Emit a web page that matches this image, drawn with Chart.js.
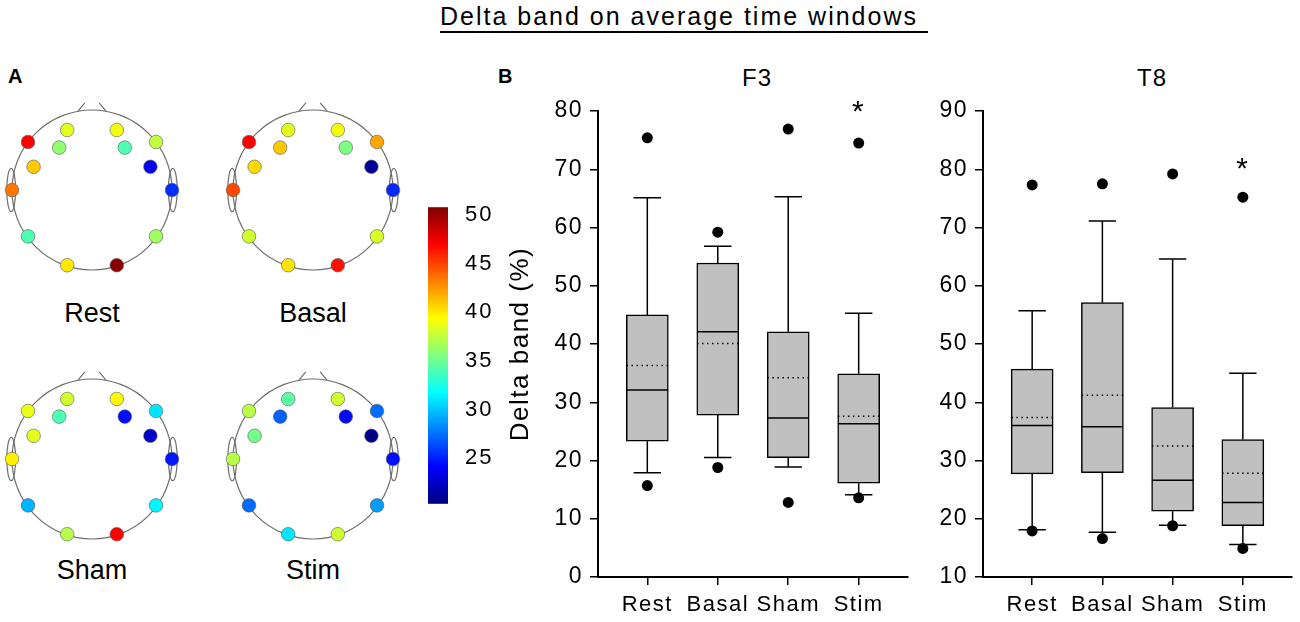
<!DOCTYPE html>
<html>
<head>
<meta charset="utf-8">
<script src="https://cdn.jsdelivr.net/npm/chart.js@4.4.1/dist/chart.umd.min.js"></script>
<style>
body { margin: 0; width: 1300px; height: 622px; position: relative; background: #fff; overflow: hidden;
       font-family: 'Liberation Sans', Arial, sans-serif; color: #000; }
canvas, .txt { position: absolute; }
.txt { line-height: 1; white-space: nowrap; }
.head { width: 184px; text-align: center; font-size: 27px; }
.panel { font-size: 20px; font-weight: bold; }
</style>
</head>
<body>
<div class="txt" style="left:440px;top:4px;width:488px;font-size:25px;letter-spacing:2px;padding-bottom:2px;border-bottom:2px solid #000;">Delta band on average time windows</div>
<div class="txt panel" style="left:8px;top:66px;">A</div>
<div class="txt panel" style="left:498px;top:66px;">B</div>

<canvas id="headRest" width="184" height="180" style="left:0px;top:100px;"></canvas>
<canvas id="headBasal" width="184" height="180" style="left:221px;top:100px;"></canvas>
<canvas id="headSham" width="184" height="180" style="left:0px;top:369px;"></canvas>
<canvas id="headStim" width="184" height="180" style="left:221px;top:369px;"></canvas>
<div class="txt head" style="left:0px;top:300px;">Rest</div>
<div class="txt head" style="left:221px;top:300px;">Basal</div>
<div class="txt head" style="left:0px;top:557px;">Sham</div>
<div class="txt head" style="left:221px;top:557px;">Stim</div>

<canvas id="cbar" width="72" height="341" style="left:428px;top:185px;"></canvas>

<div class="txt" style="left:707px;top:66px;width:100px;text-align:center;font-size:24px;letter-spacing:1px;">F3</div>
<div class="txt" style="left:1102px;top:66px;width:100px;text-align:center;font-size:24px;letter-spacing:1px;">T8</div>
<canvas id="boxF3" width="420" height="567" style="left:495px;top:55px;"></canvas>
<canvas id="boxT8" width="380" height="567" style="left:920px;top:55px;"></canvas>

<script>
// conditions on the x axis
const groups = ['Rest', 'Basal', 'Sham', 'Stim'];

// F3 box plot statistics (%)
const f3Low = [17.9, 20.5, 18.9, 14.1];
const f3Q1 = [23.3, 27.8, 20.5, 16.1];
const f3Median = [32.1, 42.1, 27.3, 26.3];
const f3Mean = [36.3, 40.1, 34.2, 27.6];
const f3Q3 = [45.0, 53.9, 42.1, 34.9];
const f3High = [65.1, 56.8, 65.3, 45.3];
const f3OutHigh = [75.4, 59.2, 76.9, 74.5];
const f3OutLow = [15.7, 18.8, 12.8, 13.6];
const f3Star = [null, null, null, 81.0];
const f3Ticks = [0, 10, 20, 30, 40, 50, 60, 70, 80];

// T8 box plot statistics (%)
const t8Low = [18.1, 17.7, 18.9, 15.6];
const t8Q1 = [27.7, 27.9, 21.3, 18.8];
const t8Median = [36.0, 35.8, 26.6, 22.8];
const t8Mean = [37.4, 41.2, 32.5, 27.8];
const t8Q3 = [45.7, 57.1, 39.1, 33.6];
const t8High = [55.7, 71.1, 64.6, 45.0];
const t8OutHigh = [77.3, 77.5, 79.2, 75.2];
const t8OutLow = [17.9, 16.6, 18.8, 14.9];
const t8Star = [null, null, null, 81.3];
const t8Ticks = [10, 20, 30, 40, 50, 60, 70, 80, 90];

// electrode layout (head radius = 1) and mean delta band per condition
const electrodes = ['AF3', 'F7', 'F3', 'FC5', 'T7', 'P7', 'O1', 'O2', 'P8', 'T8', 'FC6', 'F4', 'F8', 'AF4'];
const elecX = [-0.31, -0.80, -0.41, -0.73, -1.00, -0.80, -0.31, 0.31, 0.80, 1.00, 0.73, 0.41, 0.80, 0.31];
const elecY = [0.75, 0.60, 0.53, 0.29, 0.00, -0.58, -0.94, -0.94, -0.58, 0.00, 0.29, 0.53, 0.60, 0.75];
const restVals = [38.5, 47.0, 36.0, 41.0, 43.5, 34.0, 40.0, 50.5, 36.5, 25.5, 23.5, 34.0, 37.5, 39.0];
const basalVals = [38.5, 47.0, 41.0, 40.5, 44.8, 38.0, 40.2, 46.5, 38.3, 25.3, 21.0, 35.5, 42.0, 39.0];
const shamVals = [38.0, 38.7, 34.0, 38.5, 39.8, 29.5, 37.2, 47.0, 31.5, 24.8, 22.5, 24.5, 31.0, 39.5];
const stimVals = [34.5, 37.3, 27.0, 35.2, 37.2, 27.3, 31.0, 38.0, 28.8, 24.5, 20.5, 24.3, 27.3, 38.0];

// colour scale
const cbarMin = 20.3;
const cbarMax = 50.8;
const cbarTicks = [25, 30, 35, 40, 45, 50];

Chart.defaults.font.family = "'Liberation Sans', Arial, sans-serif";
Chart.defaults.color = '#000';
Chart.defaults.animation = false;

function jet(v) {
    const t = Math.min(1, Math.max(0, (v - cbarMin) / (cbarMax - cbarMin)));
    const c = k => Math.round(255 * Math.min(1, Math.max(0, 1.5 - Math.abs(4 * t - k))));
    return `rgb(${c(3)},${c(2)},${c(1)})`;
}

// wider letter spacing, the original figure's lettering runs wide
const spacing = {
    id: 'spacing',
    beforeLayout(chart, args, opts) { chart.ctx.letterSpacing = (opts.px || 0) + 'px'; },
    beforeDraw(chart, args, opts) { chart.ctx.letterSpacing = (opts.px || 0) + 'px'; }
};

const headOutline = {
    id: 'headOutline',
    beforeDatasetsDraw(chart) {
        const {ctx, scales: {x, y}} = chart;
        const cx = x.getPixelForValue(0), cy = y.getPixelForValue(0);
        const r = x.getPixelForValue(1) - cx;
        ctx.save();
        ctx.strokeStyle = '#6e6e6e';
        ctx.lineWidth = 1.2;
        ctx.beginPath();
        ctx.arc(cx, cy, r, 0, 2 * Math.PI);
        ctx.stroke();
        // nose
        ctx.beginPath();
        ctx.moveTo(x.getPixelForValue(-0.175), y.getPixelForValue(0.985));
        ctx.lineTo(x.getPixelForValue(-0.09), y.getPixelForValue(1.09));
        ctx.moveTo(x.getPixelForValue(0.09), y.getPixelForValue(1.09));
        ctx.lineTo(x.getPixelForValue(0.175), y.getPixelForValue(0.985));
        ctx.stroke();
        // ears
        [-1, 1].forEach(s => {
            ctx.beginPath();
            ctx.ellipse(x.getPixelForValue(s * 1.01), cy, 0.055 * r, 0.27 * r, 0, 0, 2 * Math.PI);
            ctx.stroke();
        });
        ctx.restore();
    }
};

function headChart(id, vals) {
    new Chart(document.getElementById(id), {
        type: 'scatter',
        data: {
            datasets: [{
                data: elecX.map((x, i) => ({x: x, y: elecY[i]})),
                backgroundColor: vals.map(jet),
                borderColor: 'rgba(90,90,90,0.6)',
                borderWidth: 1,
                pointRadius: 6.8
            }]
        },
        options: {
            responsive: false,
            events: [],
            layout: {padding: 0, autoPadding: false},
            scales: {
                x: {type: 'linear', display: false, min: -1.15, max: 1.15},
                y: {type: 'linear', display: false, min: -1.125, max: 1.125}
            },
            plugins: {legend: {display: false}, tooltip: {enabled: false}}
        },
        plugins: [headOutline]
    });
}

headChart('headRest', restVals);
headChart('headBasal', basalVals);
headChart('headSham', shamVals);
headChart('headStim', stimVals);

// colour bar
const jetFill = {
    id: 'jetFill',
    beforeDraw(chart) {
        const {ctx, chartArea: a} = chart;
        const g = ctx.createLinearGradient(0, a.bottom, 0, a.top);
        for (let k = 0; k <= 32; k++) {
            g.addColorStop(k / 32, jet(cbarMin + (cbarMax - cbarMin) * k / 32));
        }
        ctx.save();
        ctx.fillStyle = g;
        ctx.fillRect(a.left, a.top, a.right - a.left, a.bottom - a.top);
        ctx.restore();
    }
};

new Chart(document.getElementById('cbar'), {
    type: 'scatter',
    data: {datasets: []},
    options: {
        responsive: false,
        events: [],
        layout: {padding: {top: 11, bottom: 10, left: 0, right: 0}, autoPadding: false},
        scales: {
            x: {type: 'linear', display: false},
            y: {
                position: 'right',
                min: cbarMin,
                max: cbarMax,
                afterBuildTicks: s => { s.ticks = cbarTicks.map(v => ({value: v})); },
                grid: {display: false},
                border: {display: false},
                ticks: {padding: 9, font: {size: 22}},
                afterFit: s => { s.width = 52; }
            }
        },
        plugins: {legend: {display: false}, tooltip: {enabled: false}, spacing: {px: 2}}
    },
    plugins: [jetFill, spacing]
});

// asterisk above a box
const starMarks = {
    id: 'starMarks',
    afterDatasetsDraw(chart, args, opts) {
        const {ctx, scales: {x, y}} = chart;
        ctx.save();
        ctx.font = "30px 'Liberation Sans', Arial, sans-serif";
        ctx.textAlign = 'center';
        ctx.textBaseline = 'alphabetic';
        ctx.fillStyle = '#000';
        opts.values.forEach((v, i) => {
            if (v !== null) ctx.fillText('*', x.getPixelForValue(i), y.getPixelForValue(v) + 16);
        });
        ctx.restore();
    }
};

function boxChart(id, st, yMin, yMax, yTicks, yTitle, axisW, padRight) {
    const hw = 0.295, cw = 0.195;
    const whiskers = [], medians = [], means = [], outliers = [];
    groups.forEach((g, i) => {
        whiskers.push(
            {x: i, y: st.q3[i]}, {x: i, y: st.high[i]}, {x: i, y: null},
            {x: i - cw, y: st.high[i]}, {x: i + cw, y: st.high[i]}, {x: i, y: null},
            {x: i, y: st.q1[i]}, {x: i, y: st.low[i]}, {x: i, y: null},
            {x: i - cw, y: st.low[i]}, {x: i + cw, y: st.low[i]}, {x: i, y: null}
        );
        medians.push({x: i - hw, y: st.median[i]}, {x: i + hw, y: st.median[i]}, {x: i, y: null});
        means.push({x: i - hw, y: st.mean[i]}, {x: i + hw, y: st.mean[i]}, {x: i, y: null});
        outliers.push({x: i, y: st.outHigh[i]}, {x: i, y: st.outLow[i]});
    });

    const tickGrid = {display: true, offset: false, drawOnChartArea: false, drawTicks: true, tickLength: 8, color: '#000', lineWidth: 1.5};
    const axisBorder = {display: true, color: '#000', width: 2};

    new Chart(document.getElementById(id), {
        type: 'bar',
        data: {
            datasets: [
                {type: 'scatter', data: outliers, backgroundColor: '#000', borderWidth: 0, pointRadius: 5.5, order: 1},
                {type: 'line', data: means, borderColor: '#000', borderWidth: 1.5, borderDash: [1.5, 3.5], pointRadius: 0, spanGaps: false, order: 2},
                {type: 'line', data: medians, borderColor: '#000', borderWidth: 1.5, pointRadius: 0, spanGaps: false, order: 2},
                {type: 'line', data: whiskers, borderColor: '#000', borderWidth: 1.5, pointRadius: 0, spanGaps: false, order: 3},
                {
                    type: 'bar',
                    data: groups.map((g, i) => ({x: i, y: [st.q1[i], st.q3[i]]})),
                    backgroundColor: '#c0c0c0',
                    borderColor: '#000',
                    borderWidth: 1.5,
                    borderSkipped: false,
                    barThickness: 42,
                    order: 4
                }
            ]
        },
        options: {
            responsive: false,
            events: [],
            layout: {padding: {left: 0, top: 56, right: padRight, bottom: 0}, autoPadding: false},
            scales: {
                x: {
                    type: 'linear',
                    min: -0.7,
                    max: 3.7,
                    offset: false,
                    afterBuildTicks: s => { s.ticks = groups.map((g, i) => ({value: i})); },
                    ticks: {callback: v => groups[v], padding: 7, font: {size: 22}, autoSkip: false, maxRotation: 0},
                    grid: tickGrid,
                    border: axisBorder,
                    afterFit: s => { s.height = 45; }
                },
                y: {
                    min: yMin,
                    max: yMax,
                    afterBuildTicks: s => { s.ticks = yTicks.map(v => ({value: v})); },
                    ticks: {padding: 7, font: {size: 23}},
                    grid: tickGrid,
                    border: axisBorder,
                    title: {display: !!yTitle, text: yTitle, font: {size: 26}, padding: {top: 10, bottom: 0}},
                    afterFit: s => { s.width = axisW; }
                }
            },
            plugins: {legend: {display: false}, tooltip: {enabled: false}, starMarks: {values: st.star}, spacing: {px: 1.5}}
        },
        plugins: [starMarks, spacing]
    });
}

boxChart('boxF3', {
    low: f3Low, q1: f3Q1, median: f3Median, mean: f3Mean, q3: f3Q3, high: f3High,
    outHigh: f3OutHigh, outLow: f3OutLow, star: f3Star
}, 0, 80, f3Ticks, 'Delta band (%)', 103, 7);

boxChart('boxT8', {
    low: t8Low, q1: t8Q1, median: t8Median, mean: t8Mean, q3: t8Q3, high: t8High,
    outHigh: t8OutHigh, outLow: t8OutLow, star: t8Star
}, 10, 90, t8Ticks, '', 63, 8);
</script>
</body>
</html>
